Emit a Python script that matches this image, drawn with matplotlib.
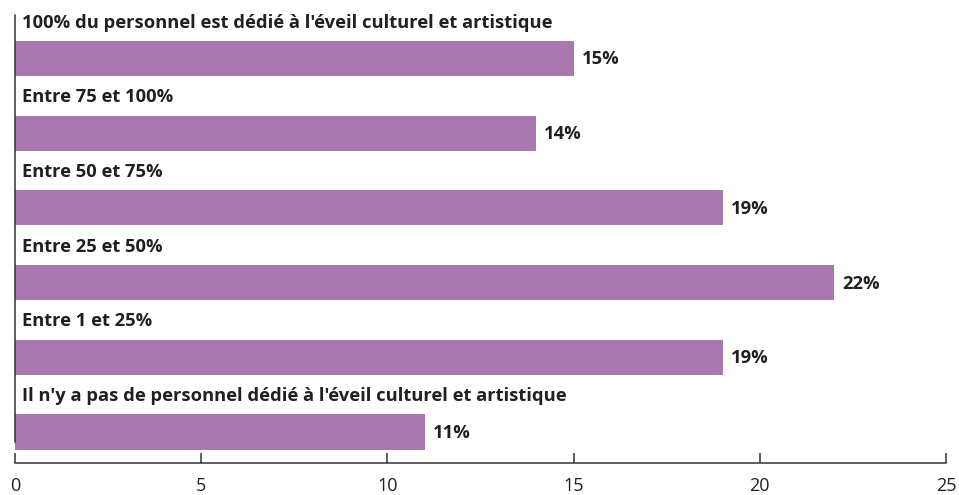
import matplotlib
matplotlib.use("Agg")
import matplotlib.pyplot as plt

categories = [
    "100% du personnel est dédié à l'éveil culturel et artistique",
    "Entre 75 et 100%",
    "Entre 50 et 75%",
    "Entre 25 et 50%",
    "Entre 1 et 25%",
    "Il n'y a pas de personnel dédié à l'éveil culturel et artistique",
]
values = [15, 14, 19, 22, 19, 11]
value_labels = ["15%", "14%", "19%", "22%", "19%", "11%"]
xticks = [0, 5, 10, 15, 20, 25]

plt.rcParams['font.family'] = ['Open Sans', 'DejaVu Sans']

W, H = 959, 495
fig = plt.figure(figsize=(W / 100, H / 100), dpi=100)
ax_left, ax_right = 15, 946
ax_top, ax_bottom = 10, 463
ax = fig.add_axes([ax_left / W, 1 - ax_bottom / H, (ax_right - ax_left) / W, (ax_bottom - ax_top) / H])

pitch = 74.7
c0 = 58.5
ymin = (ax_top - c0) / pitch
ymax = (ax_bottom - c0) / pitch

pos = list(range(len(categories)))
ax.barh(pos, values, height=0.47, color="#a878ae", zorder=2)
ax.set_xlim(0, 25)
ax.set_ylim(ymax, ymin)

for i, (cat, v, lab) in enumerate(zip(categories, values, value_labels)):
    ax.annotate(cat, xy=(0, i), xytext=(7, 36), textcoords="offset pixels",
                ha="left", va="center", fontsize=13.2, fontweight="bold", color="#231f20")
    ax.annotate(lab, xy=(v, i), xytext=(8, -1), textcoords="offset pixels",
                ha="left", va="center", fontsize=13.2, fontweight="bold", color="#231f20")

for s in ["top", "right"]:
    ax.spines[s].set_visible(False)
ax.spines["left"].set_bounds((ax_top + 5 - c0) / pitch, (442 - c0) / pitch)
ax.spines["left"].set_color("#333333")
ax.spines["bottom"].set_color("#333333")
ax.spines["left"].set_linewidth(1.1)
ax.spines["bottom"].set_linewidth(1.1)

ax.set_yticks([])
ax.set_xticks(xticks)
ax.set_xticklabels([str(t) for t in xticks])
ax.tick_params(axis="x", direction="in", length=7, width=1.1, color="#333333",
               pad=10, labelsize=13, labelcolor="#231f20")

fig.savefig("out.png", dpi=100)
